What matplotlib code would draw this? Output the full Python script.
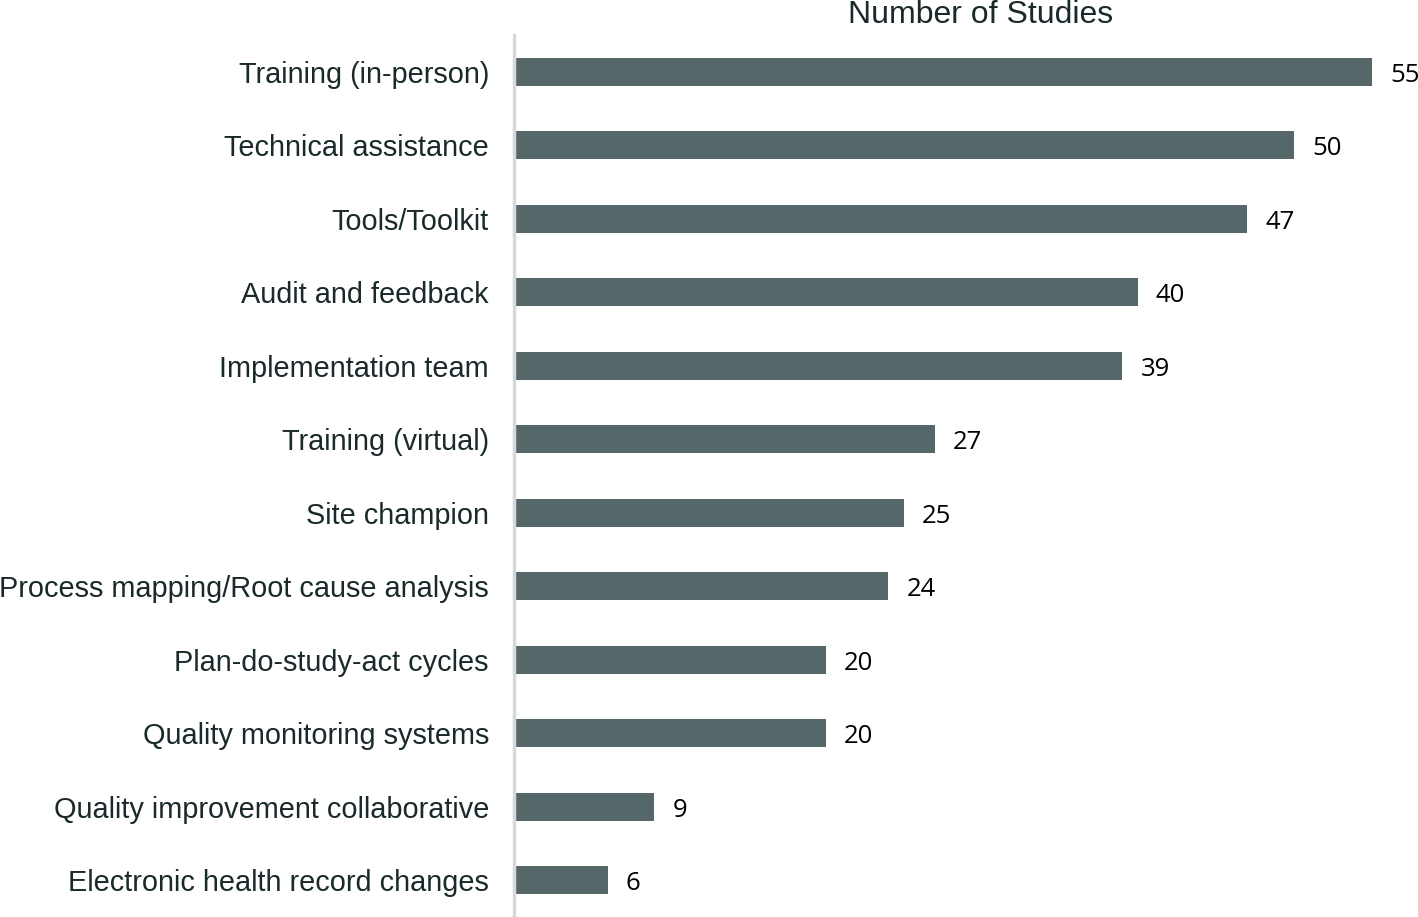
import matplotlib
matplotlib.use("Agg")
import matplotlib.pyplot as plt

# categories and study counts, top to bottom
categories = [
    "Training (in-person)",
    "Technical assistance",
    "Tools/Toolkit",
    "Audit and feedback",
    "Implementation team",
    "Training (virtual)",
    "Site champion",
    "Process mapping/Root cause analysis",
    "Plan-do-study-act cycles",
    "Quality monitoring systems",
    "Quality improvement collaborative",
    "Electronic health record changes",
]
counts = [55, 50, 47, 40, 39, 27, 25, 24, 20, 20, 9, 6]

bar_color = "#56676a"
text_color = "#1a2a2b"

fig = plt.figure(figsize=(14.18, 9.17), dpi=100)
ax = fig.add_axes([514 / 1418, 0, 904 / 1418, 882 / 917])

y = list(range(len(categories)))
ax.barh(y, counts, height=0.38, color=bar_color)
ax.set_ylim(len(categories) - 0.5, -0.5)
ax.set_xlim(0, 57.95)

ax.set_yticks(y)
ax.set_yticklabels(categories, fontsize=20.8, color=text_color,
                   family=["Liberation Sans", "DejaVu Sans"], va="center_baseline")
ax.tick_params(axis="y", length=0, pad=18)
ax.set_xticks([])

for s in ["top", "right", "bottom"]:
    ax.spines[s].set_visible(False)
ax.spines["left"].set_color("#d5d9d9")
ax.spines["left"].set_linewidth(2.5)

for yi, c in zip(y, counts):
    ax.text(c + 1.15, yi + 0.05, str(c), va="center", ha="left", fontsize=18.5,
            color="black", family=["Open Sans", "DejaVu Sans"])

fig.text(981 / 1418, 1 - 15 / 917, "Number of Studies", ha="center", va="center",
         fontsize=23, color=text_color, family=["Liberation Sans", "DejaVu Sans"])

fig.savefig("out.png", dpi=100)
